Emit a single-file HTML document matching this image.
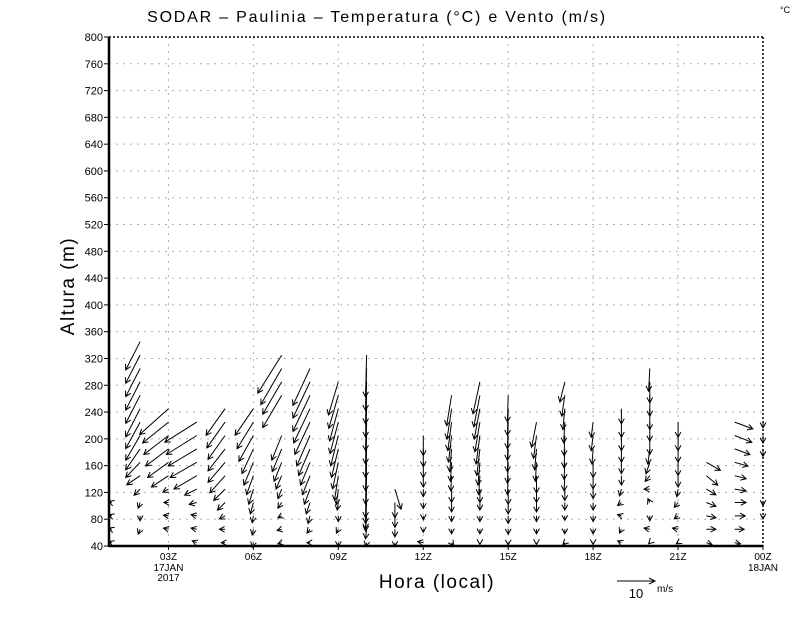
<!DOCTYPE html>
<html><head><meta charset="utf-8"><style>
html,body{margin:0;padding:0;background:#fff;}
svg{display:block;font-family:"Liberation Sans",sans-serif;}
</style></head><body>
<svg id="chart" width="800" height="618" viewBox="0 0 800 618" xmlns="http://www.w3.org/2000/svg">
<rect x="0" y="0" width="800" height="618" fill="#fff"/>
<text x="377" y="22" font-size="16" letter-spacing="1.8" text-anchor="middle" fill="#000">SODAR  –  Paulinia  –  Temperatura (°C) e Vento (m/s)</text>
<text x="780" y="13" font-size="9" fill="#000">°C</text>
<g id="grid"></g>
<g id="axes"></g>
<g id="vectors" stroke="#000" stroke-width="1" fill="none"></g>
<text transform="translate(74,286) rotate(-90)" font-size="19" letter-spacing="1.5" text-anchor="middle" fill="#000">Altura (m)</text>
<text x="437" y="588" font-size="19" letter-spacing="1.5" text-anchor="middle" fill="#000">Hora (local)</text>
<g>
<line x1="617" y1="581" x2="655" y2="581" stroke="#000"/>
<path d="M649,578 L655,581 L649,584" stroke="#000" fill="none"/>
<text x="636" y="598" font-size="13" text-anchor="middle">10</text>
<text x="657" y="592" font-size="10">m/s</text>
</g>
</svg>
<script>
// data
const yTicks = [40,80,120,160,200,240,280,320,360,400,440,480,520,560,600,640,680,720,760,800];
const xTickHours = [3,6,9,12,15,18,21,24];
const xTickLabels = ["03Z","06Z","09Z","12Z","15Z","18Z","21Z","00Z"];
const levels = [45,65,85,105,125,145,165,185,205,225,245,265,285,305,325,345];
const colHours = [1,2,3,4,5,6,7,8,9,10,11,12,13,14,15,16,17,18,19,20,21,22,23,24];
const uCols = [
 [-0.8,-0.8,-0.8,-0.8],
 [null,-0.5,0,-0.5,-1.6,-3.5,-3.8,-3.8,-3.8,-3.8,-3.8,-3.8,-3.8,-3.8,-3.8,-3.8],
 [null,-1.3,-1.3,-1.2,-1.5,-4.5,-5.5,-6,-6.5,-6.8,-7.6],
 [-1.2,-1.5,-1.5,-2,-3.2,-6,-7,-7.5,-8,-8.4],
 [-1,-1.5,-1.5,-2,-3,-4,-4.5,-4.5,-4.5,-4.8,-5],
 [-0.3,-0.3,-0.3,-0.8,-1.2,-1.8,-2.5,-3,-3.8,-4.3,-4.8],
 [-1,-1.2,-1,-1,-1,-1.5,-2,-2.5,-2.6,null,null,-5,-5,-5.5,-6.3],
 [-0.8,-0.8,-0.5,-1,-1.5,-2,-2.5,-3,-3.5,-4,-4.3,-4.5,-4.5,-4.5],
 [0,-0.5,0,-0.3,-0.5,-1,-1.5,-1.8,-2,-2.2,-2.3,-2.5,-2.6],
 [-0.3,-0.3,-0.3,-0.3,-0.3,-0.3,-0.3,-0.3,-0.3,-0.3,-0.3,-0.3,-0.3,-0.3,-0.3],
 [0,0,0,0,1.6],
 [-1.5,0,0,0,0,0,0,0,0],
 [0.5,0,0,0,0,-0.2,-0.3,-0.5,-0.8,-1,-1.2,-1.3],
 [0,0,0,0,0,-0.3,-0.5,-0.8,-1,-1.3,-1.5,-1.6,-1.8],
 [0,0,0,0,0,-0.2,-0.2,-0.2,-0.2,-0.2,-0.2,-0.2],
 [0,0,0,0,0,0,-0.3,-0.5,-0.8,-1.3],
 [-0.5,0,0,0,0,-0.2,-0.2,-0.2,-0.2,-0.3,-0.5,-0.8,-1.3],
 [0,0,0,0,0,0,0,-0.3,-0.5,-0.5],
 [-1,-0.5,-1,-1,-0.5,0,0,0,0,0,0],
 [-0.3,-1.5,0,-0.5,-1.5,-1.2,-1,-0.5,0,0,0,0,0,-0.3],
 [-0.5,-1.5,-1,-1,-0.3,0,0,0,0,0],
 [1.5,2.5,2.5,2.5,2.5,3,3.7],
 [1.5,2.5,2.8,3,3,3,3.5,4,4.5,4.8],
 [null,null,0,0,null,null,null,0,0,0]
];
const vCols = [
 [0.3,0.3,0.3,0.3],
 [null,-1.3,-1.3,-1.5,-1.6,-2.4,-4,-5.5,-6.5,-7,-7.4,-7.4,-7.4,-7.4,-7.4,-7.4],
 [null,0.3,0.2,0,-0.8,-3,-4,-4.5,-5,-5.5,-6.8],
 [0.5,0.3,0.3,-0.5,-1.6,-3.5,-4,-4.5,-5,-5.3],
 [0,0,-0.8,-2,-3,-4.5,-5.3,-5.8,-6.3,-6.8,-7],
 [-1.2,-1.5,-1.8,-3,-4,-5,-6,-6.5,-6.8,-7,-7],
 [-0.3,-0.3,-0.5,-1.5,-2.5,-3.5,-5,-6,-6.5,null,null,-8.5,-8.5,-9.5,-10],
 [0,-1,-2,-3,-4,-5,-6,-7,-8,-8.5,-9,-9.5,-9.5,-9.7],
 [-1,-1,-1.5,-2,-4,-6.5,-7,-7.5,-8,-8.3,-8.5,-8.7,-8.7],
 [-1,-2.5,-4,-7,-9,-11,-11,-11,-11,-11,-11,-11,-11,-11,-11],
 [-1,-2,-3,-4,-5.3],
 [0.3,-0.8,-1,-1.6,-2,-3,-4,-4.7,-5.3],
 [-0.8,-1.2,-1.5,-2.5,-3.5,-4,-5,-6,-7,-7.5,-8,-8],
 [-0.5,-1.2,-1.5,-2,-3.5,-5,-6,-7,-7.5,-7.8,-8,-8.3,-8.4],
 [-0.6,-1.3,-2,-3,-4,-5,-5.5,-6,-6.5,-7,-7,-7],
 [-0.5,-1.2,-1.5,-2.5,-3.5,-4.5,-5,-5.5,-6,-6.6],
 [-0.5,-1.2,-1.2,-2,-3,-4,-4.5,-5,-5.3,-5.5,-5.5,-5.5,-5.3],
 [-0.5,-1.2,-1.5,-2,-2.5,-3.5,-4,-4,-4,-4],
 [0.5,-1,0.3,-0.8,-1.8,-2.5,-3,-3.5,-4,-4,-4],
 [-0.3,0.3,-1.3,1,0,-1.5,-3,-4,-5,-5,-5.5,-5.5,-5.5,-6],
 [-0.3,0.3,-0.8,-1.3,-2,-3,-3.5,-3.5,-4,-4],
 [-0.5,0,-0.5,-1,-1.5,-2.5,-2.1],
 [-0.3,0,0,0,-0.5,-0.8,-1,-1.5,-1.8,-1.8],
 [null,null,-0.8,-0.8,null,null,null,-2,-2,-1.5]
];
// layout
const L=109,R=763,T=37,B=546;
const H0=0.9, H1=24;
const sx = h => L + (h-H0)/(H1-H0)*(R-L);
const sy = m => B - (m-40)/(800-40)*(B-T);
const PXMS = 3.8;
const NS="http://www.w3.org/2000/svg";
function mk(tag, attrs, parent){const e=document.createElementNS(NS,tag);for(const k in attrs)e.setAttribute(k,attrs[k]);parent.appendChild(e);return e;}
const grid=document.getElementById('grid'), axes=document.getElementById('axes'), vec=document.getElementById('vectors');
yTicks.forEach((t,i)=>{
  if(i>0 && i<yTicks.length-1){
    const g=mk('line',{x1:L,x2:R,y1:sy(t),y2:sy(t),stroke:'#b0b0b0','stroke-dasharray':'2,5'},grid);
    
    
  }
  const tk=mk('line',{x1:L-5,x2:L,y1:sy(t),y2:sy(t),stroke:'#000'},axes);
  
  
  const tx=mk('text',{x:L-6,y:sy(t)+4,'font-size':11,'text-anchor':'end',fill:'#000'},axes);
  tx.textContent=t;
  
  
});
xTickHours.forEach((h,i)=>{
  const x=sx(h);
  if(h<H1){
    const g=mk('line',{x1:x,x2:x,y1:T,y2:B,stroke:'#b0b0b0','stroke-dasharray':'2,5'},grid);
    
    
  }
  const tk=mk('line',{x1:x,x2:x,y1:B,y2:B+4,stroke:'#000'},axes);
  
  
  const tx=mk('text',{x:x,y:B+14,'font-size':10,'text-anchor':'middle',fill:'#000'},axes);
  tx.textContent=xTickLabels[i];
  
  
});
[["17JAN",3,25],["2017",3,35],["18JAN",24,25]].forEach(d=>{
  const tx=mk('text',{x:sx(d[1]),y:B+d[2],'font-size':10,'text-anchor':'middle',fill:'#000'},axes);
  tx.textContent=d[0];
  
  
});
const fr=[
 mk('line',{x1:L,x2:R,y1:T,y2:T,stroke:'#000','stroke-dasharray':'2,2','stroke-width':1.5},axes),
 mk('line',{x1:R,x2:R,y1:T,y2:B,stroke:'#000','stroke-dasharray':'2,2','stroke-width':1.5},axes),
 mk('line',{x1:L,x2:L,y1:T,y2:B+1,stroke:'#000','stroke-width':2.5},axes),
 mk('line',{x1:L,x2:R,y1:B,y2:B,stroke:'#000','stroke-width':2.5},axes)];
fr.forEach(f=>{});
colHours.forEach((h,c)=>{
  const us=uCols[c], vs=vCols[c];
  us.forEach((u,k)=>{
    const v=vs[k];
    if(u===null||v===null||v===undefined) return;
    const x0=sx(h), y0=sy(levels[k]);
    const dx=u*PXMS, dy=-v*PXMS;
    const x1=x0+dx, y1=y0+dy;
    const len=Math.hypot(dx,dy)||1;
    const ux=dx/len, uy=dy/len, hl=6, a=0.5;
    const ca=Math.cos(a), sa=Math.sin(a);
    const bx1=-(ux*ca-uy*sa)*hl, by1=-(uy*ca+ux*sa)*hl;
    const bx2=-(ux*ca+uy*sa)*hl, by2=-(uy*ca-ux*sa)*hl;
    const p=mk('path',{d:`M${x0.toFixed(1)},${y0.toFixed(1)}L${x1.toFixed(1)},${y1.toFixed(1)}M${(x1+bx1).toFixed(1)},${(y1+by1).toFixed(1)}L${x1.toFixed(1)},${y1.toFixed(1)}L${(x1+bx2).toFixed(1)},${(y1+by2).toFixed(1)}`},vec);
    
    
  });
});
</script>
</body></html>
